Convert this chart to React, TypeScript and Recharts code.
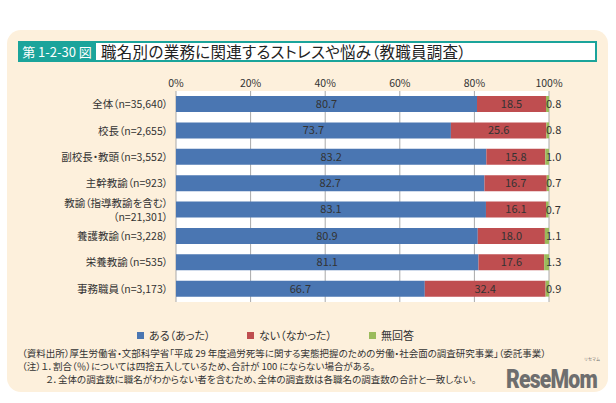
import React from 'react';
import { BarChart, Bar, XAxis, YAxis, CartesianGrid, LabelList, Legend } from 'recharts';

const categories = [
    '全体（n=35,640）',
    '校長（n=2,655）',
    '副校長・教頭（n=3,552）',
    '主幹教諭（n=923）',
    '教諭（指導教諭を含む）\n（n=21,301）',
    '養護教諭（n=3,228）',
    '栄養教諭（n=535）',
    '事務職員（n=3,173）',
];
const yesValues = [80.7, 73.7, 83.2, 82.7, 83.1, 80.9, 81.1, 66.7];
const noValues = [18.5, 25.6, 15.8, 16.7, 16.1, 18.0, 17.6, 32.4];
const naValues = [0.8, 0.8, 1.0, 0.7, 0.7, 1.1, 1.3, 0.9];
const xTicks = [0, 20, 40, 60, 80, 100];

const seriesNames = ['ある（あった）', 'ない（なかった）', '無回答'];
const seriesColors = ['#4a76b2', '#bf4e50', '#9bbb5c'];

const data = categories.map((name, i) => ({
    name,
    yes: yesValues[i],
    no: noValues[i],
    na: naValues[i],
}));

const FONT = '"Noto Sans CJK JP", "Noto Sans", sans-serif';
const TEXT = '#333';

const YTick = ({ y, payload }: any) => {
    const lines = String(payload.value).split('\n');
    const step = 14;
    const first = y + 4 - ((lines.length - 1) * step) / 2;
    return (
        <g>
            {lines.map((l, i) => (
                <text key={i} x={168} y={first + i * step} textAnchor="end" fontSize={10.5} fill={TEXT} fontFamily={FONT} style={{ fontFeatureSettings: '"palt"' }}>
                    {l}
                </text>
            ))}
        </g>
    );
};

const XTick = ({ x, payload }: any) => (
    <text x={x} y={87} textAnchor="middle" fontSize={10.5} fill={TEXT} fontFamily={FONT}>
        {payload.value}%
    </text>
);

const OutsideLabel = ({ x, y, width, height, value }: any) => (
    <text x={x + width - 3} y={y + height / 2 + 4} fontSize={11} fill={TEXT} fontFamily={FONT}>
        {Number(value).toFixed(1)}
    </text>
);

const LegendContent = () => (
    <div style={{ position: 'relative', height: 16, fontFamily: FONT, fontSize: 11, color: TEXT, fontFeatureSettings: '"palt"' }}>
        {seriesNames.map((n, i) => (
            <div key={n} style={{ position: 'absolute', left: [137, 247, 369][i], top: 0, display: 'flex', alignItems: 'center', whiteSpace: 'nowrap' }}>
                <span style={{ display: 'inline-block', width: 7, height: 7, background: seriesColors[i], marginRight: 5 }} />
                <span>{n}</span>
            </div>
        ))}
    </div>
);

const App: React.FC = () => {
    return (
        <div style={{ position: 'absolute', left: 0, top: 0, width: 616, height: 403, background: '#fff', overflow: 'hidden' }}>
            {/* beige panel */}
            <div style={{ position: 'absolute', left: 7, top: 30, width: 601, height: 362, background: '#fdf0dc', borderRadius: 14 }} />

            {/* title bar */}
            <div style={{ position: 'absolute', left: 18, top: 41, width: 579, height: 21, border: '2px solid #1ba49b', boxSizing: 'border-box', background: '#fff' }} />
            <div style={{ position: 'absolute', left: 18, top: 41, width: 78, height: 21, background: '#1ba49b', color: '#fff', fontFamily: FONT, fontSize: 13, lineHeight: '21px', textAlign: 'center', whiteSpace: 'nowrap' }}>
                第 1-2-30 図
            </div>
            <div style={{ position: 'absolute', left: 101, top: 41, height: 21, color: '#222', fontFamily: FONT, fontSize: 15.5, lineHeight: '21px', whiteSpace: 'nowrap', fontFeatureSettings: '"palt"', letterSpacing: 0.3 }}>
                職名別の業務に関連するストレスや悩み（教職員調査）
            </div>

            <div style={{ position: 'absolute', left: 0, top: 0 }}>
                <BarChart
                    width={616}
                    height={403}
                    layout="vertical"
                    data={data}
                    margin={{ top: 71, right: 67, bottom: 85, left: 0 }}
                    barSize={16}
                >
                    <CartesianGrid horizontal={false} stroke="#a9a9a9" fill="#fff" />
                    <XAxis
                        type="number"
                        orientation="top"
                        height={20}
                        domain={[0, 100]}
                        ticks={xTicks}
                        allowDataOverflow
                        axisLine={false}
                        tickLine={false}
                        tick={<XTick />}
                    />
                    <YAxis
                        type="category"
                        dataKey="name"
                        width={176}
                        axisLine={false}
                        tickLine={false}
                        interval={0}
                        tick={<YTick />}
                    />
                    <Legend verticalAlign="bottom" align="left" content={<LegendContent />} wrapperStyle={{ top: 327, left: 0, width: 616 }} />
                    <Bar dataKey="yes" name={seriesNames[0]} stackId="a" fill={seriesColors[0]} isAnimationActive={false}>
                        <LabelList dataKey="yes" position="center" fontSize={11} fill={TEXT} fontFamily={FONT} formatter={(v: any) => Number(v).toFixed(1)} />
                    </Bar>
                    <Bar dataKey="no" name={seriesNames[1]} stackId="a" fill={seriesColors[1]} isAnimationActive={false}>
                        <LabelList dataKey="no" position="center" fontSize={11} fill={TEXT} fontFamily={FONT} formatter={(v: any) => Number(v).toFixed(1)} />
                    </Bar>
                    <Bar dataKey="na" name={seriesNames[2]} stackId="a" fill={seriesColors[2]} isAnimationActive={false}>
                        <LabelList dataKey="na" content={<OutsideLabel />} />
                    </Bar>
                </BarChart>
            </div>

            {/* notes */}
            <div style={{ position: 'absolute', left: 22, top: 347, fontFamily: FONT, fontSize: 9.5, lineHeight: '13px', color: '#333', whiteSpace: 'nowrap', fontFeatureSettings: '"palt"' }}>
                <div>（資料出所）厚生労働省・文部科学省「平成 29 年度過労死等に関する実態把握のための労働・社会面の調査研究事業」（委託事業）</div>
                <div>（注）１．割合（％）については四捨五入しているため、合計が 100 にならない場合がある。</div>
                <div style={{ paddingLeft: 24 }}>２．全体の調査数に職名がわからない者を含むため、全体の調査数は各職名の調査数の合計と一致しない。</div>
            </div>

            {/* watermark */}
            <div style={{ position: 'absolute', left: 506, top: 369, fontFamily: 'Roboto, sans-serif', fontWeight: 900, fontSize: 25, lineHeight: '22px', color: '#6e6e6e', letterSpacing: -1, transform: 'scaleX(0.85)', transformOrigin: 'left' }}>
                ReseMom
            </div>
            <div style={{ position: 'absolute', left: 584, top: 357, fontFamily: FONT, fontSize: 4, lineHeight: '5px', color: '#6e6e6e' }}>リセマム</div>
        </div>
    );
};

export default App;
